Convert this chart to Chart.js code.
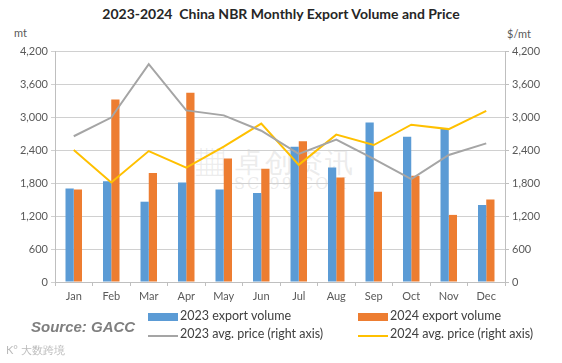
<!DOCTYPE html>
<html>
<head>
<meta charset="utf-8">
<script src="https://cdn.jsdelivr.net/npm/chart.js@4"></script>
<style>
body{margin:0;background:#fff;font-family:Lato,sans-serif;}
#wrap{position:relative;width:562px;height:363px;overflow:hidden;}
#wrap canvas{position:absolute;left:0;top:0;}
.t{position:absolute;white-space:nowrap;color:#404040;}
.sw{position:absolute;}
</style>
</head>
<body>
<div id="wrap">
  <div class="t" style="left:0;top:5px;width:562px;text-align:center;font-weight:bold;font-size:14px;color:#262626;">2023-2024&nbsp; China NBR Monthly Export Volume and Price</div>
  <div class="t" style="left:14px;top:26px;font-size:11px;color:#595959;">mt</div>
  <div class="t" style="left:507px;top:27px;font-size:11px;color:#595959;">$/mt</div>
  <div class="t" style="left:196px;top:144px;font-size:28px;color:rgba(190,190,190,0.3);letter-spacing:2px;">▦ 卓创资讯</div>
  <div class="t" style="left:234px;top:174px;font-size:16px;font-family:'DejaVu Serif',serif;color:rgba(190,190,190,0.3);letter-spacing:2px;">SCI99.COM</div>
  <canvas id="exportChart" width="562" height="363"></canvas>
  <div class="t" style="left:31px;top:318px;font-size:15px;font-weight:bold;font-style:italic;font-family:'Liberation Sans',Arial,sans-serif;color:#7f7f7f;">Source: GACC</div>
  <div class="sw" style="left:148px;top:313px;width:30px;height:8px;background:#5b9bd5;"></div>
  <div class="t" style="left:180px;top:308px;font-size:12.5px;">2023 export volume</div>
  <div class="sw" style="left:148px;top:335px;width:30px;height:1.5px;background:#a5a5a5;"></div>
  <div class="t" style="left:180px;top:326px;font-size:12.5px;">2023 avg. price (right axis)</div>
  <div class="sw" style="left:358px;top:313px;width:30px;height:8px;background:#ed7d31;"></div>
  <div class="t" style="left:390px;top:308px;font-size:12.5px;">2024 export volume</div>
  <div class="sw" style="left:358px;top:335px;width:30px;height:1.5px;background:#ffc000;"></div>
  <div class="t" style="left:390px;top:326px;font-size:12.5px;">2024 avg. price (right axis)</div>
  <div class="t" style="left:6px;top:343px;font-size:11px;color:rgba(170,170,170,0.8);">K° 大数跨境</div>
</div>
<script>
const months=['Jan','Feb','Mar','Apr','May','Jun','Jul','Aug','Sep','Oct','Nov','Dec'];
const volume2023=[1700,1830,1460,1810,1680,1620,2460,2080,2900,2640,2790,1400];
const volume2024=[1680,3320,1980,3440,2245,2060,2560,1900,1640,1930,1220,1500];
const price2023=[2650,2990,3960,3120,3030,2750,2330,2590,2240,1870,2310,2520];
const price2024=[2400,1810,2380,2080,2460,2880,2130,2680,2490,2860,2780,3110];
const yTicks=[0,600,1200,1800,2400,3000,3600,4200];

const tickFont={family:'Lato',size:11};
const fmt=v=>v.toLocaleString('en-US');

function drawExportChart(){
    const ctx=document.getElementById("exportChart").getContext("2d");
    if(window.exportChart&&window.exportChart.destroy)window.exportChart.destroy();
    window.exportChart=new Chart(ctx,{
        type:'bar',
        data:{
            labels:months,
            datasets:[
                {type:'line',label:'2023 avg. price (right axis)',data:price2023,yAxisID:'y1',borderColor:'#a5a5a5',borderWidth:2,pointRadius:0,tension:0,order:0},
                {type:'line',label:'2024 avg. price (right axis)',data:price2024,yAxisID:'y1',borderColor:'#ffc000',borderWidth:2,pointRadius:0,tension:0,order:0},
                {label:'2023 export volume',data:volume2023,yAxisID:'y',backgroundColor:'#5b9bd5',categoryPercentage:0.44,barPercentage:1,order:1},
                {label:'2024 export volume',data:volume2024,yAxisID:'y',backgroundColor:'#ed7d31',categoryPercentage:0.44,barPercentage:1,order:1}
            ]
        },
        options:{
            responsive:false,animation:false,
            layout:{padding:{top:51,left:0,right:0,bottom:0}},
            plugins:{legend:{display:false},tooltip:{enabled:false}},
            scales:{
                x:{
                    offset:true,
                    grid:{offset:true,drawOnChartArea:false,drawTicks:true,tickLength:4,color:'#bfbfbf'},
                    border:{color:'#bfbfbf'},
                    ticks:{font:tickFont,color:'#595959',padding:4,maxRotation:0},
                    afterFit:s=>{s.height=81;}
                },
                y:{
                    position:'left',min:0,max:4200,
                    afterBuildTicks:s=>{s.ticks=yTicks.map(v=>({value:v}));},
                    grid:{color:'#d0d0d0',tickLength:4},
                    border:{color:'#bfbfbf'},
                    ticks:{font:tickFont,color:'#595959',padding:3,callback:fmt},
                    afterFit:s=>{s.width=55;}
                },
                y1:{
                    position:'right',min:0,max:4200,
                    afterBuildTicks:s=>{s.ticks=yTicks.map(v=>({value:v}));},
                    grid:{drawOnChartArea:false,color:'#bfbfbf',tickLength:4},
                    border:{color:'#bfbfbf'},
                    ticks:{font:tickFont,color:'#595959',padding:3,callback:fmt},
                    afterFit:s=>{s.width=57;}
                }
            }
        }
    });
}

drawExportChart();
</script>
</body>
</html>
